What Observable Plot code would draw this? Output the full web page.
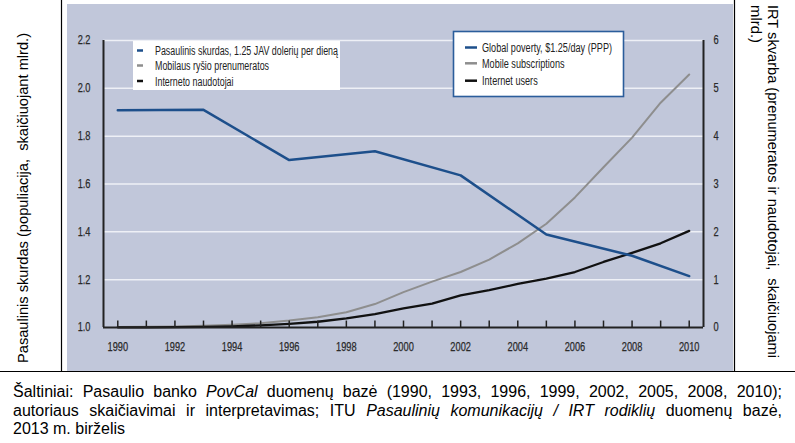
<!DOCTYPE html>
<html><head><meta charset="utf-8">
<script src="https://cdn.jsdelivr.net/npm/d3@7"></script>
<script src="https://cdn.jsdelivr.net/npm/@observablehq/plot@0.6"></script>
<style>
body{margin:0;background:#fff;}
#wrap{position:relative;width:795px;height:443px;overflow:hidden;background:#fff;}
#caption{position:absolute;left:13px;top:383px;width:769px;font-family:"Liberation Sans",Arial,sans-serif;font-size:16px;line-height:18.5px;color:#000;}
#caption .j{text-align:justify;text-align-last:justify;}
</style></head><body>
<div id="wrap"><div id="chart"></div>
<div id="caption">
<div class="j">Šaltiniai: Pasaulio banko <i>PovCal</i> duomenų bazė (1990, 1993, 1996, 1999, 2002, 2005, 2008, 2010);</div>
<div class="j">autoriaus skaičiavimai ir interpretavimas; ITU <i>Pasaulinių komunikacijų / IRT rodiklių</i> duomenų bazė,</div>
<div>2013 m. birželis</div>
</div></div>
<script>
// ---- data ----
const years = [1990,1991,1992,1993,1994,1995,1996,1997,1998,1999,2000,2001,2002,2003,2004,2005,2006,2007,2008,2009,2010];
const povertyYears = [1990,1993,1996,1999,2002,2005,2008,2010];
const povertyValues = [1.908,1.910,1.700,1.737,1.636,1.389,1.300,1.215];
const mobileValues = [0.011,0.016,0.023,0.034,0.056,0.091,0.145,0.215,0.318,0.49,0.74,0.96,1.16,1.42,1.76,2.17,2.72,3.35,3.97,4.70,5.29];
const internetValues = [0.003,0.004,0.007,0.014,0.025,0.045,0.077,0.12,0.19,0.28,0.40,0.50,0.67,0.78,0.91,1.02,1.16,1.37,1.56,1.76,2.02];
const leftTicks = [1.0,1.2,1.4,1.6,1.8,2.0,2.2];
const rightTicks = [0,1,2,3,4,5,6];
const yearLabels = [1990,1992,1994,1996,1998,2000,2002,2004,2006,2008,2010];
const legendLT = ["Pasaulinis skurdas, 1.25 JAV dolerių per dieną","Mobilaus ryšio prenumeratos","Interneto naudotojai"];
const legendEN = ["Global poverty, $1.25/day (PPP)","Mobile subscriptions","Internet users"];
const leftTitle = "Pasaulinis skurdas (populiacija,\u00a0 skaičiuojant mlrd.)";
const rightTitle = ["IRT skvarba (prenumeratos ir naudotojai,\u00a0 skaičiuojami","mlrd.)"];

const colors = ["#1d4f8b","#8e8e8e","#111111"];
// right axis (0..6) mapped onto left scale (1.0..2.2)
const toLeft = v => 1 + v * 0.2;
const fromLeft = d => Math.round((d - 1) / 0.2);

const povertyData = povertyYears.map((y,i)=>({year:y, v:povertyValues[i]}));
const mobileData = years.map((y,i)=>({year:y, v:toLeft(mobileValues[i])}));
const internetData = years.map((y,i)=>({year:y, v:toLeft(internetValues[i])}));

const sans = '"Liberation Sans",Arial,sans-serif';

const plot = Plot.plot({
  width: 795, height: 374,
  marginLeft: 103, marginRight: 92, marginTop: 40, marginBottom: 47,
  style: {fontFamily: sans, fontSize: "12px", color: "#2a2a2a", background: "transparent"},
  x: {domain: [1989.5, 2010.5]},
  y: {domain: [1, 2.2]},
  marks: [
    Plot.ruleY(leftTicks.slice(1), {stroke: "#eef0f6", strokeWidth: 1.5}),
    Plot.line(mobileData, {x: "year", y: "v", stroke: colors[1], strokeWidth: 2}),
    Plot.line(internetData, {x: "year", y: "v", stroke: colors[2], strokeWidth: 2.3}),
    Plot.line(povertyData, {x: "year", y: "v", stroke: colors[0], strokeWidth: 2.5}),
    Plot.ruleX(years, {x: d => d, y1: 1, y2: 1.027, stroke: "#222", strokeWidth: 1.5}),
    Plot.ruleY([1], {stroke: "#222", strokeWidth: 2}),
    Plot.ruleX([1989.5, 2010.5], {stroke: "#222", strokeWidth: 2}),
    Plot.axisX(yearLabels, {tickSize: 0, tickPadding: 15, tickFormat: d => String(d), label: null}),
    Plot.axisY(leftTicks, {anchor: "left", tickSize: 0, tickPadding: 13, tickFormat: d => d.toFixed(1), label: null}),
    Plot.axisY(rightTicks.map(toLeft), {anchor: "right", tickSize: 0, tickPadding: 10, tickFormat: d => String(fromLeft(d)), label: null})
  ]
});
document.getElementById("chart").appendChild(plot);

const svg = d3.select(plot);
// condense tick labels (reference uses a narrow face)
svg.selectAll("g[aria-label$='tick label'] text").each(function(){
  const L = this.getComputedTextLength();
  d3.select(this).attr("textLength", (L*0.77).toFixed(2)).attr("lengthAdjust", "spacingAndGlyphs")
    .attr("stroke", "#2a2a2a").attr("stroke-width", 0.25);
});

// panel background & frame lines
svg.insert("rect", ":first-child").attr("x", 67).attr("y", 4).attr("width", 666).attr("height", 368).attr("fill", "#c1c7da");
svg.insert("rect", ":first-child").attr("x", 0).attr("y", 0).attr("width", 795).attr("height", 374).attr("fill", "#fff");
const frame = svg.append("g").attr("stroke", "#000").attr("stroke-width", 1.2);
frame.append("line").attr("x1", 61.5).attr("x2", 61.5).attr("y1", 0).attr("y2", 372);
frame.append("line").attr("x1", 734.5).attr("x2", 734.5).attr("y1", 0).attr("y2", 372);
frame.append("line").attr("x1", 0).attr("x2", 795).attr("y1", 371.5).attr("y2", 371.5);

function legend(labels, ys, sx1, sx2, tx, target) {
  const g = svg.append("g");
  const texts = labels.map((t,i)=>{
    g.append("line").attr("x1", sx1).attr("x2", sx2).attr("y1", ys[i]).attr("y2", ys[i]).attr("stroke", colors[i]).attr("stroke-width", 2.5);
    return g.append("text").attr("x", tx).attr("y", ys[i]).attr("dy", "0.36em").attr("text-anchor", "start")
      .attr("font-family", sans).attr("font-size", 12.5).attr("fill", "#222").text(t);
  });
  const ratio = target / texts[0].node().getComputedTextLength();
  texts.forEach(t => t.attr("textLength", (t.node().getComputedTextLength()*ratio).toFixed(2)).attr("lengthAdjust", "spacingAndGlyphs"));
  return g;
}
// legend 1 (Lithuanian)
svg.append("rect").attr("x", 133).attr("y", 41).attr("width", 207).attr("height", 49).attr("fill", "#fff");
legend(legendLT, [50.5, 65.5, 81], 137, 143, 155, 183);
// legend 2 (English)
svg.append("rect").attr("x", 453.5).attr("y", 31.5).attr("width", 170).attr("height", 65).attr("fill", "#fff").attr("stroke", "#2b5d9b").attr("stroke-width", 1.6);
legend(legendEN, [47.5, 63.3, 80.7], 465, 477, 482, 130);

// axis titles
function title(tr, anchor, txt, len) {
  svg.append("text").attr("transform", tr).attr("text-anchor", anchor).attr("dy", "0.35em")
    .attr("font-family", sans).attr("font-size", 15).attr("fill", "#000")
    .attr("textLength", len).attr("lengthAdjust", "spacingAndGlyphs").text(txt);
}
title("translate(23,198) rotate(-90)", "middle", leftTitle, 330);
title("translate(773,5) rotate(90)", "start", rightTitle[0], 353);
title("translate(756,5) rotate(90)", "start", rightTitle[1], 38);
</script>
</body></html>
